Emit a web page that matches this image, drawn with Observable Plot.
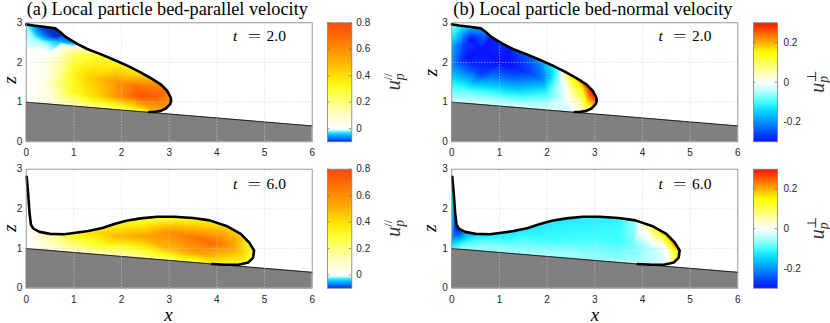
<!DOCTYPE html>
<html><head><meta charset="utf-8">
<script src="https://cdn.jsdelivr.net/npm/d3@7"></script>
<script src="https://cdn.jsdelivr.net/npm/@observablehq/plot@0.6"></script>
<style>
body{margin:0;background:#fff;}
#fig{position:relative;width:830px;height:323px;overflow:hidden;background:#fff;}
#fig svg{position:absolute;left:0;top:0;}
</style></head><body><div id="fig"></div>
<script>
const W = 830, H = 323;

// ---- data ----
const xTicks = [0, 1, 2, 3, 4, 5, 6];
const zTicks = [0, 1, 2, 3];
const xGrid = [1, 2, 3, 4, 5];
const zGrid = [1, 2];
const bedX = [0, 6];
const bedZ = [1, 0.4];

// current outline (black line), t = 2.0
const front2X = [0, 0.15, 0.37, 0.61, 0.72, 0.82, 0.93, 1.07, 1.28, 1.56, 1.84, 2.12, 2.40, 2.65, 2.82, 2.96, 3.03, 3.04, 3.02, 2.93, 2.82, 2.68, 2.58];
const front2Z = [2.96, 2.93, 2.90, 2.86, 2.76, 2.65, 2.57, 2.47, 2.34, 2.21, 2.07, 1.92, 1.75, 1.58, 1.45, 1.28, 1.12, 1.03, 0.95, 0.84, 0.78, 0.75, 0.75];
// current outline, t = 6.0
const front6X = [0.01, 0.04, 0.07, 0.10, 0.15, 0.28, 0.50, 0.80, 1.00, 1.30, 1.60, 1.85, 2.10, 2.40, 2.75, 3.10, 3.50, 3.85, 4.20, 4.50, 4.68, 4.78, 4.76, 4.66, 4.45, 4.20, 3.90];
const front6Z = [2.81, 2.40, 1.90, 1.60, 1.50, 1.42, 1.37, 1.36, 1.39, 1.44, 1.52, 1.62, 1.70, 1.76, 1.80, 1.80, 1.77, 1.71, 1.57, 1.37, 1.15, 0.95, 0.77, 0.65, 0.59, 0.59, 0.61];

// sampled field values [x, z, u]
const fieldPar2 = [
 [0,2.95,-0.02],[0.15,2.9,-0.05],[0.3,2.88,-0.09],[0.45,2.85,-0.1],[0.65,2.8,-0.1],[0.8,2.72,-0.1],
 [0.95,2.6,-0.1],[0.6,2.65,-0.1],[0.4,2.7,-0.08],[1.1,2.5,-0.06],[0.15,2.65,-0.02],[0.3,2.55,-0.02],
 [0.7,2.5,-0.04],[1.0,2.42,-0.02],[0,2.3,0],[0,1.7,0],[0,1.0,0],[0,0.8,0],[0.35,2.1,0.02],
 [0.35,1.5,0.04],[0.5,1.0,0.05],[0.7,2.1,0.12],[0.7,1.5,0.2],[1.0,2.25,0.22],[1.05,1.75,0.35],
 [1.0,1.25,0.32],[1.0,0.95,0.15],[1.4,2.15,0.3],[1.4,1.6,0.45],[1.5,1.15,0.42],[1.6,0.88,0.2],
 [1.9,1.95,0.35],[1.9,1.5,0.58],[2.0,1.15,0.62],[2.1,0.85,0.3],[2.3,1.72,0.4],[2.3,1.4,0.68],
 [2.4,1.15,0.77],[2.5,0.95,0.6],[2.5,0.78,0.35],[2.7,1.45,0.6],[2.7,1.15,0.75],[2.8,0.9,0.6],
 [2.7,0.72,0.45],[3.1,1.3,0.65],[3.1,0.95,0.62],[3.0,1.7,0.45],[2.5,2.0,0.35],[1.5,2.5,0.15],
 [1.2,2.75,-0.08],[0.7,3.0,-0.1],[0,3.0,-0.02],[3.1,0.7,0.5],[1.5,0.75,0.15]
];
const fieldNorm2 = [
 [0,2.95,-0.05],[0.15,2.85,-0.12],[0.4,2.82,-0.2],[0.7,2.72,-0.22],[0.3,2.5,-0.27],[0.6,2.3,-0.3],
 [1.0,2.4,-0.28],[1.0,2.0,-0.3],[0.5,1.9,-0.28],[1.4,2.2,-0.27],[1.5,1.8,-0.28],[0,2.4,-0.18],
 [0,1.9,-0.2],[0,1.5,-0.12],[0,1.0,-0.03],[0.3,1.25,-0.08],[0.8,1.5,-0.18],[0.8,1.1,-0.06],
 [1.3,1.4,-0.18],[1.5,1.0,-0.06],[1.8,2.05,-0.22],[1.9,1.6,-0.22],[2.0,1.2,-0.1],[2.0,0.85,-0.03],
 [2.2,1.8,-0.1],[2.25,1.5,-0.05],[2.35,1.1,-0.02],[2.45,1.7,0.1],[2.5,1.3,0.06],[2.5,0.78,-0.02],
 [2.65,1.6,0.2],[2.7,1.3,0.12],[2.8,1.48,0.27],[2.9,1.35,0.3],[3.02,1.15,0.3],[2.85,1.0,0.18],
 [2.75,0.8,0.04],[3.1,0.85,0.2],[3.1,1.5,0.3],[0.9,3.0,-0.2],[2.6,1.9,0.18],[2.0,2.2,-0.15],
 [0.4,2.6,-0.3],[0.8,2.6,-0.3],[0.3,2.1,-0.3],[1.2,1.9,-0.3],[1.2,2.3,-0.3],[0.6,1.7,-0.26]
];
const fieldPar6 = [
 [0,2.8,0],[0.05,1.8,0.02],[0,1.2,0],[0,0.95,0],[0.3,1.35,0.08],[0.3,1.05,0.05],[0.7,1.3,0.2],
 [0.7,1.0,0.1],[1.0,1.3,0.32],[1.0,0.95,0.12],[1.5,1.4,0.42],[1.5,1.0,0.25],[1.5,0.85,0.1],
 [2.0,1.6,0.35],[2.0,1.3,0.5],[2.0,0.85,0.15],[2.5,1.7,0.3],[2.5,1.3,0.55],[2.5,0.8,0.2],
 [3.0,1.75,0.3],[3.0,1.4,0.6],[3.0,1.0,0.5],[3.0,0.75,0.25],[3.5,1.7,0.35],[3.5,1.3,0.66],
 [3.5,0.9,0.55],[3.5,0.7,0.3],[3.9,1.6,0.4],[3.9,1.15,0.7],[3.9,0.75,0.45],[4.2,1.5,0.45],
 [4.2,1.1,0.62],[4.2,0.65,0.35],[4.5,1.3,0.45],[4.5,0.9,0.45],[4.5,0.6,0.3],[4.75,1.0,0.3],
 [4.75,0.7,0.25],[4.9,0.9,0.25],[4.0,1.8,0.35],[3.0,1.9,0.3],[1.5,1.6,0.3],[0.3,1.6,0.05],
 [4.5,1.6,0.4],[4.8,1.3,0.3],[4.8,0.55,0.25],[3.8,0.55,0.3],[2,0.7,0.1],[0.5,0.9,0.03]
];
const fieldNorm6 = [
 [0,2.8,-0.1],[0.05,2.3,-0.12],[0.05,1.9,-0.2],[0.08,1.6,-0.3],[0.15,1.45,-0.28],[0,1.2,-0.18],
 [0,0.95,-0.08],[0.3,1.4,-0.18],[0.3,1.15,-0.1],[0.6,1.3,-0.12],[0.7,1.15,-0.08],[1.0,1.32,-0.12],
 [1.0,1.0,-0.06],[1.5,1.42,-0.12],[1.5,0.95,-0.06],[2.0,1.6,-0.12],[2.0,1.2,-0.1],[2.0,0.85,-0.05],
 [2.5,1.7,-0.12],[2.5,1.25,-0.1],[2.5,0.8,-0.05],[3.0,1.75,-0.12],[3.0,1.3,-0.1],[3.0,0.75,-0.06],
 [3.5,1.7,-0.11],[3.5,1.2,-0.1],[3.5,0.7,-0.06],[3.85,1.65,-0.06],[3.8,1.1,-0.08],[4.05,1.68,0.06],
 [4.0,0.65,-0.05],[4.3,1.52,0.15],[4.2,1.0,-0.04],[4.55,1.3,0.22],[4.45,1.05,0.0],[4.5,0.6,-0.02],
 [4.7,1.1,0.25],[4.78,0.9,0.2],[4.7,0.7,0.1],[4.9,1.1,0.25],[4.9,0.6,0.1],[4.2,1.8,0.15],
 [3.5,1.9,-0.1],[1.0,1.5,-0.12],[0.2,1.0,-0.06]
];

// colour maps
const parDomain = [-0.1, 0.8];
const parStops  = [-0.1, -0.075, -0.05, -0.03, -0.015, 0, 0.1, 0.2, 0.3, 0.4, 0.5, 0.6, 0.7, 0.8];
const parColors = ["#0a2fc8","#0070ff","#00b8ff","#30e8ff","#b8ffff","#ffffff","#ffffc8","#ffff80","#ffff28","#ffe000","#ffb400","#ff9000","#ff6a00","#ff4a10"];
const normDomain = [-0.3, 0.3];
const normStops  = [-0.3, -0.25, -0.2, -0.15, -0.1, -0.05, 0, 0.05, 0.1, 0.15, 0.2, 0.25, 0.3];
const normColors = ["#0a14ff","#0050ff","#0094ff","#00d4ff","#40ffff","#b0ffff","#ffffff","#ffffb0","#ffff50","#ffff00","#ffb000","#ff6000","#ff1400"];
const parTicks = [0, 0.2, 0.4, 0.6, 0.8];
const normTicks = [-0.2, 0, 0.2];

const titles = ["(a) Local particle bed-parallel velocity", "(b) Local particle bed-normal velocity"];
const timeLabels = ["2.0", "6.0"];

// ---- layout ----
const colL = [25.7, 451.3], colR = [311.7, 737.3];
const rowT = [22.3, 168.7], rowB = [141.3, 287.7];
const cbL = [327, 753], cbR = [351.3, 777];

const ns = "http://www.w3.org/2000/svg";
const fig = document.getElementById("fig");
const baseStyle = {background: "transparent", fontFamily: "'Liberation Sans', Arial, sans-serif", fontSize: "10px", color: "#262626"};

function interp(stops, colors, dom) {
  const s = d3.scaleLinear().domain(stops).range(colors).clamp(true);
  return t => s(dom[0] + t * (dom[1] - dom[0]));
}
const parInterp = interp(parStops, parColors, parDomain);
const normInterp = interp(normStops, normColors, normDomain);

let clipN = 0;
function panel(c, r, field, fx, fz, dom, cm) {
  const pts = field.map(([x, z, v]) => ({x, z, v}));
  const front = fx.map((x, i) => ({x, z: fz[i]}));
  const bed = bedX.map((x, i) => ({x, z: bedZ[i]}));
  const chart = Plot.plot({
    width: W, height: H,
    marginLeft: colL[c], marginRight: W - colR[c], marginTop: rowT[r], marginBottom: H - rowB[r],
    style: baseStyle,
    x: {domain: [0, 6], label: null},
    y: {domain: [0, 3], label: null},
    color: {type: "linear", domain: dom, interpolate: cm, clamp: true},
    marks: [
      Plot.raster(pts, {x: "x", y: "z", fill: "v", interpolate: "barycentric", x1: 0, x2: 6, y1: 0, y2: 3}),
      Plot.areaY(bed, {x: "x", y1: 0, y2: "z", fill: "#808080"}),
      Plot.line(bed, {x: "x", y: "z", stroke: "#1a1a1a", strokeWidth: 0.9}),
      Plot.ruleX(xGrid, {stroke: "#d0d0d0", strokeDasharray: "1,2", strokeWidth: 0.8}),
      Plot.ruleY(zGrid, {stroke: "#d0d0d0", strokeDasharray: "1,2", strokeWidth: 0.8}),
      Plot.line(front, {x: "x", y: "z", stroke: "#000", strokeWidth: 2.6, strokeLinejoin: "round", strokeLinecap: "round"}),
      Plot.frame({stroke: "#808080", strokeWidth: 0.8}),
      Plot.axisX(xTicks, {tickSize: 0, tickPadding: 7.5, fill: "#262626"}),
      Plot.axisY(zTicks, {tickSize: 0, tickPadding: 4, fill: "#262626"})
    ]
  });
  // clip raster to current region (front + bed)
  const sx = chart.scale("x"), sy = chart.scale("y");
  const poly = [[0, fz[0]], ...fx.map((x, i) => [x, fz[i]]), [fx[fx.length - 1], 0], [0, 0]];
  const id = "clipcur" + (clipN++);
  const defs = document.createElementNS(ns, "defs");
  const cp = document.createElementNS(ns, "clipPath");
  cp.setAttribute("id", id);
  const p = document.createElementNS(ns, "path");
  p.setAttribute("d", "M" + poly.map(([x, z]) => sx.apply(x) + "," + sy.apply(z)).join("L") + "Z");
  cp.appendChild(p); defs.appendChild(cp);
  chart.insertBefore(defs, chart.firstChild);
  const rg = chart.querySelector('g[aria-label="raster"]');
  if (rg) {
    const wrap = document.createElementNS(ns, "g");
    wrap.setAttribute("clip-path", `url(#${id})`);
    rg.parentNode.insertBefore(wrap, rg);
    wrap.appendChild(rg);
  }
  fig.appendChild(chart);
}

function colorbar(c, r, dom, cm, ticks) {
  const chart = Plot.plot({
    width: W, height: H,
    marginLeft: cbL[c], marginRight: W - cbR[c], marginTop: rowT[r], marginBottom: H - rowB[r],
    style: baseStyle,
    x: {domain: [0, 1], axis: null},
    y: {domain: dom, label: null},
    color: {type: "linear", domain: dom, interpolate: cm, clamp: true},
    marks: [
      Plot.raster({fill: (x, y) => y, x1: 0, x2: 1, y1: dom[0], y2: dom[1]}),
      Plot.ruleY(ticks, {x1: 0, x2: 0.1, stroke: "#555", strokeWidth: 0.6}),
      Plot.ruleY(ticks, {x1: 0.9, x2: 1, stroke: "#555", strokeWidth: 0.6}),
      Plot.frame({stroke: "#808080", strokeWidth: 0.8}),
      Plot.axisY(ticks, {anchor: "right", tickSize: 0, tickPadding: c === 0 ? 4.5 : 6, tickFormat: d => String(d), fill: "#262626"})
    ]
  });
  fig.appendChild(chart);
}

panel(0, 0, fieldPar2, front2X, front2Z, parDomain, parInterp);
panel(1, 0, fieldNorm2, front2X, front2Z, normDomain, normInterp);
panel(0, 1, fieldPar6, front6X, front6Z, parDomain, parInterp);
panel(1, 1, fieldNorm6, front6X, front6Z, normDomain, normInterp);
colorbar(0, 0, parDomain, parInterp, parTicks);
colorbar(0, 1, parDomain, parInterp, parTicks);
colorbar(1, 0, normDomain, normInterp, normTicks);
colorbar(1, 1, normDomain, normInterp, normTicks);

// ---- text overlay ----
const ov = d3.select(fig).append("svg").attr("width", W).attr("height", H)
  .style("font-family", "'Liberation Serif', 'DejaVu Serif', serif");
// titles
ov.append("text").attr("x", 26.7).attr("y", 15).attr("font-size", 18.3).text(titles[0]);
ov.append("text").attr("x", 453.3).attr("y", 15).attr("font-size", 18.3).text(titles[1]);
// time labels
[0, 1].forEach(c => [0, 1].forEach(r => {
  const x0 = colL[c] + 207.3, y0 = rowT[r] + (r === 0 ? 19 : 20.3);
  ov.append("text").attr("x", x0).attr("y", y0).attr("font-size", 15.5).attr("font-style", "italic").text("t");
  ov.append("text").attr("x", x0 + 14.5).attr("y", y0).attr("font-size", 15.5)
    .attr("textLength", 13.5).attr("lengthAdjust", "spacingAndGlyphs").text("=");
  ov.append("text").attr("x", x0 + 33.5).attr("y", y0).attr("font-size", 15.5).text(timeLabels[r]);
}));
// axis labels
const zLab = [[16, 80], [437, 72.5], [16, 228], [436, 228]];
zLab.forEach(([x, y]) => ov.append("text").attr("transform", `translate(${x},${y}) rotate(-90)`)
  .attr("text-anchor", "middle").attr("font-size", 19).attr("font-style", "italic").text("z"));
[168.5, 595].forEach(x => ov.append("text").attr("x", x).attr("y", 320.5).attr("text-anchor", "middle")
  .attr("font-size", 19).attr("font-style", "italic").text("x"));
// colourbar labels
function cbLabel(x, y, sup) {
  const t = ov.append("text").attr("transform", `translate(${x},${y}) rotate(-90)`)
    .attr("text-anchor", "middle").attr("fill", "#333");
  t.append("tspan").attr("font-size", 20).attr("font-style", "italic").text("u");
  t.append("tspan").attr("font-size", 14).attr("font-style", "italic").attr("dy", 4).text("p");
  t.append("tspan").attr("font-size", 13).attr("dx", -7).attr("dy", -12).text(sup);
}
cbLabel(400, 81.7, "//");
cbLabel(400, 228.2, "//");
cbLabel(824, 81.7, "\u22A5");
cbLabel(824, 228.2, "\u22A5");
</script></body></html>
